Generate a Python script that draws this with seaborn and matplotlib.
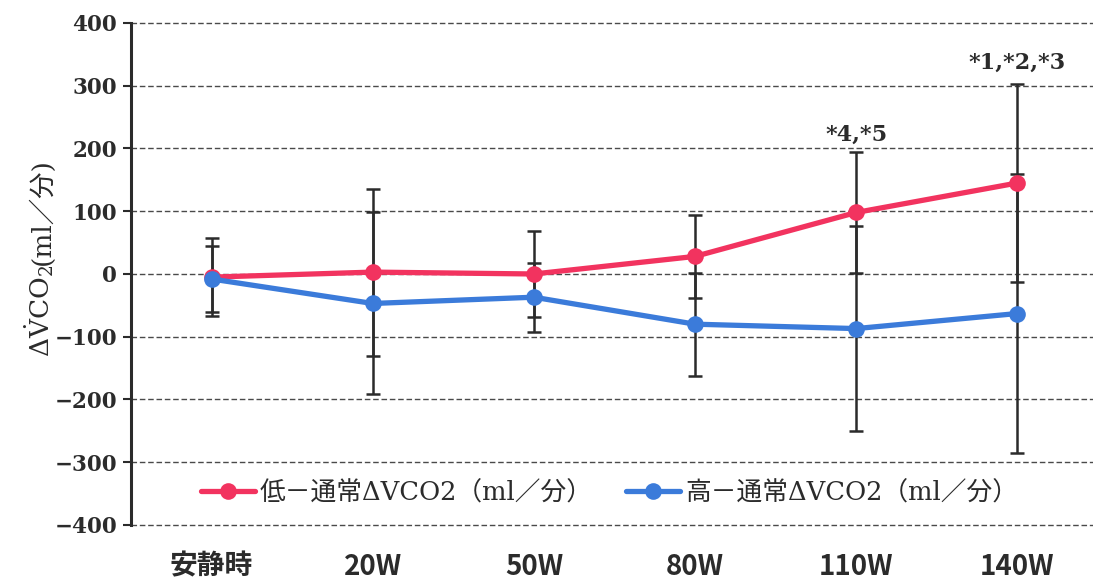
import matplotlib
matplotlib.use("Agg")
import matplotlib.pyplot as plt
import seaborn as sns
import pandas as pd
from matplotlib.ticker import MultipleLocator

# Exercise stages and mean change in VCO2 (ml/min) with SD
stages = ["安静時", "20W", "50W", "80W", "110W", "140W"]
low_label = "低－通常ΔVCO2（ml／分）"
high_label = "高－通常ΔVCO2（ml／分）"
low_mean = [-5, 3, 0, 28, 98, 145]
low_sd = [62, 133, 68, 66, 96, 157]
high_mean = [-8, -47, -37, -80, -87, -63]
high_sd = [52, 145, 55, 82, 164, 223]
notes = {4: "*4,*5", 5: "*1,*2,*3"}

RED = "#F2335F"
BLUE = "#3B7BDA"
INK = "#2b2b2b"

sns.set_theme(style="white")
plt.rcParams["font.family"] = ["DejaVu Serif", "Noto Sans CJK JP"]
plt.rcParams["mathtext.fontset"] = "dejavuserif"

pos = list(range(len(stages)))
df = pd.DataFrame({
    "stage": pos * 2,
    "value": low_mean + high_mean,
    "series": [low_label] * len(pos) + [high_label] * len(pos),
})

fig = plt.figure(figsize=(10.93, 5.85), dpi=100)
ax = fig.add_axes([0.1199, 0.1026, 0.8801, 0.8581])

sns.lineplot(data=df, x="stage", y="value", hue="series",
             hue_order=[low_label, high_label],
             palette={low_label: RED, high_label: BLUE},
             marker="o", markersize=12, markeredgewidth=0,
             linewidth=3.8, errorbar=None, legend=False, ax=ax, zorder=3)
handles = list(ax.lines[:2])

# SD whiskers behind the markers
for mean, sd in ((low_mean, low_sd), (high_mean, high_sd)):
    ax.errorbar(pos, mean, yerr=sd, fmt="none", ecolor=INK,
                elinewidth=1.8, capsize=4.7, capthick=1.8, zorder=2)

for i, txt in notes.items():
    top = max(low_mean[i] + low_sd[i], high_mean[i] + high_sd[i])
    ax.annotate(txt, (i, top), xytext=(0, 5 if i == 4 else 8),
                textcoords="offset points", ha="center", va="bottom",
                fontsize=16, fontweight="bold", color=INK,
                family="DejaVu Serif")

ax.set_xlim(-0.5, 5.47)
ax.set_ylim(-400, 400)
ax.yaxis.set_major_locator(MultipleLocator(100))
ax.set_xticks(pos)
ax.set_xticklabels(stages, family=["Noto Sans CJK JP"], fontsize=20,
                   fontweight="bold", color=INK)
for lab in ax.get_yticklabels():
    lab.set_fontweight("bold")
    lab.set_fontsize(15.5)
    lab.set_color(INK)
ax.tick_params(axis="x", length=0, pad=20)
ax.tick_params(axis="y", direction="out", length=6, width=1.5, color=INK,
               pad=4, left=True)

ax.yaxis.grid(True, linestyle=(0, (4, 2)), linewidth=1.0, color="#4a4a4a")
for gl in ax.get_ygridlines():
    gl.set_clip_on(False)
ax.xaxis.grid(False)
for side in ("top", "right", "bottom"):
    ax.spines[side].set_visible(False)
ax.spines["left"].set_color(INK)
ax.spines["left"].set_linewidth(2.2)
ax.set_xlabel("")
ax.set_ylabel("")

# Y-axis title: V-dot quantity set in mathtext, unit in CJK-capable font
ylab_x, ylab_y = 0.046, 0.39
part1 = fig.text(ylab_x, ylab_y, r"$\Delta\dot{\mathrm{V}}\mathrm{CO_2}$",
                 rotation=90, rotation_mode="anchor", ha="left",
                 va="baseline", fontsize=19, color=INK)
fig.canvas.draw()
ext = part1.get_window_extent()
fig.text(ylab_x, ext.y1 / fig.bbox.height, "(ml／分)", rotation=90,
         rotation_mode="anchor", ha="left", va="baseline", fontsize=19,
         color=INK, family=["DejaVu Serif", "Noto Sans CJK JP"])

leg = ax.legend(handles=handles, labels=[low_label, high_label],
                loc="center left", bbox_to_anchor=(0.062, 0.064), ncol=2,
                frameon=False, handlelength=2.1,
                handletextpad=0.2, columnspacing=1.3, borderaxespad=0,
                prop={"family": ["DejaVu Serif", "Noto Sans CJK JP"], "size": 18.5})
for t in leg.get_texts():
    t.set_color(INK)

fig.savefig("out.png", dpi=100)
